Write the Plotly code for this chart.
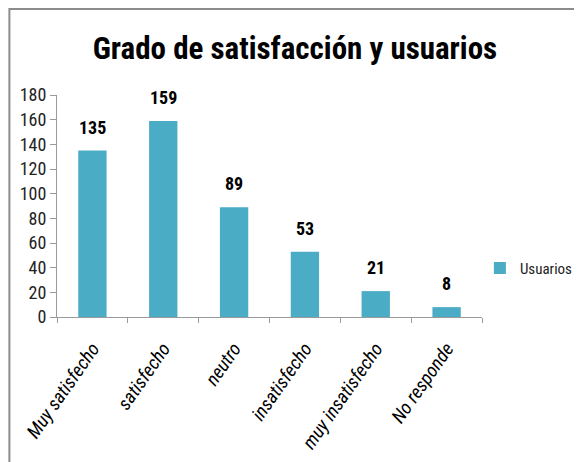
import plotly.graph_objects as go

# datos del grafico
categorias = ['Muy satisfecho', 'satisfecho', 'neutro', 'insatisfecho', 'muy insatisfecho', 'No responde']
usuarios = [135, 159, 89, 53, 21, 8]
ticks_y = [0, 20, 40, 60, 80, 100, 120, 140, 160, 180]

fuente = "Roboto Condensed, DejaVu Sans Condensed, sans-serif"
color_barra = '#4BACC6'
gris = '#9A9A9A'

fig = go.Figure()
fig.add_trace(go.Bar(x=categorias, y=usuarios, name='Usuarios',
                     marker=dict(color=color_barra, line=dict(width=0)),
                     showlegend=True))

# etiquetas de datos encima de cada barra
for cat, val in zip(categorias, usuarios):
    fig.add_annotation(x=cat, y=val, text=str(val), showarrow=False,
                       yanchor='bottom', yshift=11,
                       font=dict(family=fuente, size=18, color='black', weight='bold'))

# marco gris (solo se ven el borde izquierdo y superior)
fig.add_shape(type='rect', xref='paper', yref='paper',
              x0=-0.112, x1=1.5, y0=-1.2, y1=1.387,
              line=dict(color='#8C8C8C', width=2))

fig.update_layout(
    width=582, height=462,
    margin=dict(l=49, r=105, t=87, b=153),
    paper_bgcolor='white', plot_bgcolor='white',
    bargap=0.6,
    title=dict(text='Grado de satisfacción y usuarios', x=0.493, xref='container', xanchor='center',
               y=0.913, yref='container', yanchor='middle',
               font=dict(family=fuente, size=31, color='black', weight='bold')),
    font=dict(family=fuente, size=15, color='#222222'),
    legend=dict(x=0.995, y=0.22, xref='paper', xanchor='left', yanchor='middle',
                font=dict(family=fuente, size=15, color='#222222'),
                itemwidth=30),
    xaxis=dict(tickangle=-55, showline=True, linecolor=gris, linewidth=1, automargin=False,
               ticks='outside', tickson='boundaries', ticklen=5, tickcolor=gris,
               ticklabelstandoff=12,
               tickfont=dict(family=fuente, size=19, color='black', style='italic')),
    yaxis=dict(range=[0, 180], tickvals=ticks_y, showgrid=False, zeroline=False,
               showline=True, linecolor=gris, linewidth=1, automargin=False,
               ticks='outside', ticklen=6, tickcolor=gris,
               tickfont=dict(family=fuente, size=18, color='#222222')),
)

fig.write_html("out.html")
